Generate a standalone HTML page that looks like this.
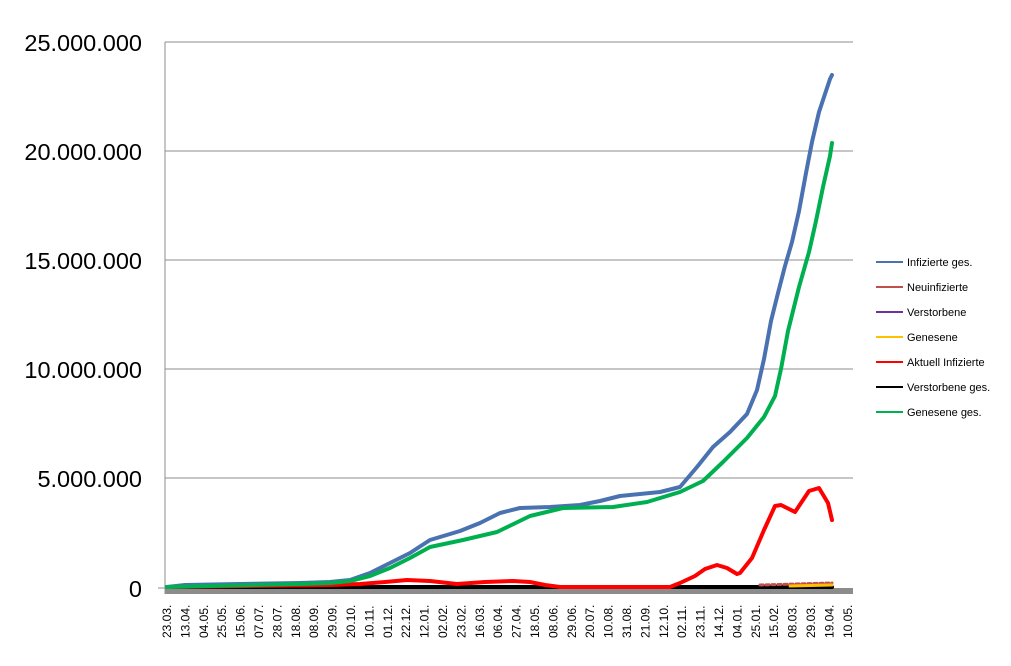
<!DOCTYPE html>
<html><head><meta charset="utf-8"><style>
body{margin:0;background:#fff;}
svg text{font-family:"Liberation Sans",Arial,sans-serif;}
</style></head><body>
<svg width="1011" height="661" xmlns="http://www.w3.org/2000/svg">
<g stroke="#8c8c8c" stroke-width="1">
<line x1="165" y1="42" x2="853" y2="42"/>
<line x1="165" y1="151" x2="853" y2="151"/>
<line x1="165" y1="260" x2="853" y2="260"/>
<line x1="165" y1="369" x2="853" y2="369"/>
<line x1="165" y1="478" x2="853" y2="478"/>
<line x1="165" y1="42" x2="165" y2="594"/>
<line x1="158" y1="588" x2="165" y2="588"/>
</g>
<rect x="165" y="588" width="688" height="6" fill="#8c8c8c"/>
<g font-size="23.5" text-anchor="end" fill="#000">
<text x="142" y="51">25.000.000</text>
<text x="142" y="160">20.000.000</text>
<text x="142" y="269">15.000.000</text>
<text x="142" y="378">10.000.000</text>
<text x="142" y="487">5.000.000</text>
<text x="142" y="597">0</text>
</g>
<g fill="none" stroke-width="4" stroke-linejoin="round" stroke-linecap="round">
<polyline stroke="#000" points="167,587 832,587"/>
<polyline stroke="#c0504d" stroke-width="3" stroke-dasharray="3 3" points="760,585 832,583"/>
<polyline stroke="#ffc000" stroke-width="3" points="790,586 832,585"/>
<polyline stroke="#ff0000" points="167,587 330,585 360,584 385,582 407,580 430,581 457,584 485,582 513,581 530,582 545,585 560,587 670,587 680,583 695,576 705,569 717,565 727,568 737,574 740,573 752,558 764,530 775,506 781,505 795,512 809,491 819,488 828,503 832,520"/>
<polyline stroke="#4a72b0" points="167,587 185,585 240,584 300,583 330,582 350,580 370,573 390,563 410,553 430,540 440,537 460,531 480,523 500,513 520,508 550,507 580,505 600,501 620,496 660,492 680,487 697,467 713,447 730,432 747,414 757,390 764,359 771,321 778,293 785,266 792,242 799,211 806,173 812,142 819,112 826,91 830,79 832,75"/>
<polyline stroke="#00b050" points="167,587 300,584 330,583 350,581 370,576 390,568 410,558 430,547 463,540 497,532 530,516 563,508 613,507 647,502 680,492 703,481 723,462 747,438 764,417 775,396 781,369 788,331 799,287 809,252 816,221 823,187 830,156 832,143"/>
</g>
<g font-size="11" fill="#000">
<line x1="876" y1="262" x2="903" y2="262" stroke="#4a72b0" stroke-width="2"/><text x="907" y="266">Infizierte ges.</text>
<line x1="876" y1="287" x2="903" y2="287" stroke="#c0504d" stroke-width="2"/><text x="907" y="291">Neuinfizierte</text>
<line x1="876" y1="312" x2="903" y2="312" stroke="#7030a0" stroke-width="2"/><text x="907" y="316">Verstorbene</text>
<line x1="876" y1="337" x2="903" y2="337" stroke="#ffc000" stroke-width="2"/><text x="907" y="341">Genesene</text>
<line x1="876" y1="362" x2="903" y2="362" stroke="#ff0000" stroke-width="2"/><text x="907" y="366">Aktuell Infizierte</text>
<line x1="876" y1="387" x2="903" y2="387" stroke="#000" stroke-width="2"/><text x="907" y="391">Verstorbene ges.</text>
<line x1="876" y1="412" x2="903" y2="412" stroke="#00b050" stroke-width="2"/><text x="907" y="416">Genesene ges.</text>
</g>
<g font-size="12" fill="#000">
<text transform="translate(171.0,638) rotate(-90)">23.03.</text>
<text transform="translate(189.4,638) rotate(-90)">13.04.</text>
<text transform="translate(207.8,638) rotate(-90)">04.05.</text>
<text transform="translate(226.2,638) rotate(-90)">25.05.</text>
<text transform="translate(244.6,638) rotate(-90)">15.06.</text>
<text transform="translate(263.0,638) rotate(-90)">07.07.</text>
<text transform="translate(281.4,638) rotate(-90)">28.07.</text>
<text transform="translate(299.8,638) rotate(-90)">18.08.</text>
<text transform="translate(318.2,638) rotate(-90)">08.09.</text>
<text transform="translate(336.6,638) rotate(-90)">29.09.</text>
<text transform="translate(355.0,638) rotate(-90)">20.10.</text>
<text transform="translate(373.4,638) rotate(-90)">10.11.</text>
<text transform="translate(391.8,638) rotate(-90)">01.12.</text>
<text transform="translate(410.2,638) rotate(-90)">22.12.</text>
<text transform="translate(428.6,638) rotate(-90)">12.01.</text>
<text transform="translate(447.0,638) rotate(-90)">02.02.</text>
<text transform="translate(465.4,638) rotate(-90)">23.02.</text>
<text transform="translate(483.8,638) rotate(-90)">16.03.</text>
<text transform="translate(502.2,638) rotate(-90)">06.04.</text>
<text transform="translate(520.6,638) rotate(-90)">27.04.</text>
<text transform="translate(539.0,638) rotate(-90)">18.05.</text>
<text transform="translate(557.4,638) rotate(-90)">08.06.</text>
<text transform="translate(575.8,638) rotate(-90)">29.06.</text>
<text transform="translate(594.2,638) rotate(-90)">20.07.</text>
<text transform="translate(612.6,638) rotate(-90)">10.08.</text>
<text transform="translate(631.0,638) rotate(-90)">31.08.</text>
<text transform="translate(649.4,638) rotate(-90)">21.09.</text>
<text transform="translate(667.8,638) rotate(-90)">12.10.</text>
<text transform="translate(686.2,638) rotate(-90)">02.11.</text>
<text transform="translate(704.6,638) rotate(-90)">23.11.</text>
<text transform="translate(723.0,638) rotate(-90)">14.12.</text>
<text transform="translate(741.4,638) rotate(-90)">04.01.</text>
<text transform="translate(759.8,638) rotate(-90)">25.01.</text>
<text transform="translate(778.2,638) rotate(-90)">15.02.</text>
<text transform="translate(796.6,638) rotate(-90)">08.03.</text>
<text transform="translate(815.0,638) rotate(-90)">29.03.</text>
<text transform="translate(833.4,638) rotate(-90)">19.04.</text>
<text transform="translate(851.8,638) rotate(-90)">10.05.</text>
</g>
</svg>
</body></html>
